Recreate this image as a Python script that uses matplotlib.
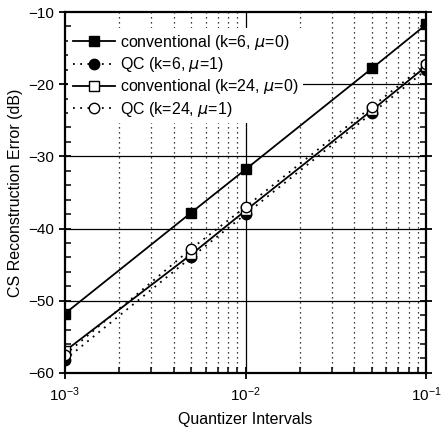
import numpy as np
import matplotlib
matplotlib.use('Agg')
import matplotlib.pyplot as plt
from matplotlib.ticker import LogLocator, MultipleLocator, FixedLocator, NullFormatter

plt.rcParams['font.family'] = ['Liberation Sans', 'DejaVu Sans']
plt.rcParams['mathtext.fontset'] = 'custom'
plt.rcParams['mathtext.rm'] = 'Liberation Sans'

# data
intervals = [0.001, 0.005, 0.01, 0.05, 0.1]
conv_k6 = [-51.8, -37.8, -31.8, -17.8, -11.7]
qc_k6 = [-58.2, -44.0, -38.0, -24.0, -18.0]
conv_k24 = [-57.0, -43.6, -37.5, -23.6, -17.5]
qc_k24 = [-57.5, -42.8, -37.0, -23.1, -17.2]

labels = ['conventional (k=6, $\\mu$=0)', 'QC (k=6, $\\mu$=1)',
          'conventional (k=24, $\\mu$=0)', 'QC (k=24, $\\mu$=1)']

fig = plt.figure(figsize=(4.41, 4.30), dpi=100)
ax = fig.add_axes([0.147, 0.133, 0.820, 0.839])

#grid first so it sits under the data
for xv in [2e-3, 3e-3, 4e-3, 5e-3, 6e-3, 7e-3, 8e-3, 9e-3,
           2e-2, 3e-2, 4e-2, 5e-2, 6e-2, 7e-2, 8e-2, 9e-2]:
    ax.axvline(xv, color='k', lw=0.9, ls=(0, (1, 3)), zorder=0.5)
ax.axvline(1e-2, color='k', lw=0.9, zorder=0.5)
for yv in [-20, -30, -40, -50]:
    ax.axhline(yv, color='k', lw=0.9, zorder=0.5)

ms = 7.5
ax.plot(intervals, conv_k6, '-', color='k', lw=1.3, marker='s', ms=ms,
        mfc='k', mec='k', label=labels[0])
ax.plot(intervals, qc_k6, color='k', lw=1.3, ls=(0, (1, 3)), marker='o', ms=ms,
        mfc='k', mec='k', label=labels[1])
ax.plot(intervals, conv_k24, '-', color='k', lw=1.3, marker='s', ms=ms,
        mfc='white', mec='k', label=labels[2])
ax.plot(intervals, qc_k24, color='k', lw=1.3, ls=(0, (1, 3)), marker='o', ms=ms,
        mfc='white', mec='k', label=labels[3])

ax.set_xscale('log')
ax.set_xlim(1e-3, 1e-1)
ax.set_ylim(-60, -10)
ax.xaxis.set_major_locator(FixedLocator([1e-3, 1e-2, 1e-1]))
ax.xaxis.set_minor_locator(LogLocator(base=10, subs=np.arange(2, 10)))
ax.xaxis.set_minor_formatter(NullFormatter())
ax.yaxis.set_major_locator(MultipleLocator(10))
ax.yaxis.set_minor_locator(MultipleLocator(2))

for s in ax.spines.values():
    s.set_linewidth(1.6)
ax.tick_params(which='major', direction='inout', length=8, width=1.3,
               labelsize=11, right=True, top=False)
ax.tick_params(which='minor', direction='in', length=4, width=1.1,
               right=True, top=False)
ax.tick_params(axis='x', which='major', pad=5)

ax.set_xlabel('Quantizer Intervals', fontsize=11.5, labelpad=6)
ax.set_ylabel('CS Reconstruction Error (dB)', fontsize=11.5, labelpad=4)

leg = ax.legend(loc='upper left', bbox_to_anchor=(0.01, 0.955), fontsize=11.5,
                frameon=True, framealpha=1, edgecolor='none', facecolor='white',
                handlelength=2.6, handletextpad=0.3, labelspacing=0.2,
                borderpad=0.3, borderaxespad=0.0, fancybox=False)
# keep legend box over the grid but under the data lines
leg.set_zorder(1.5)

fig.savefig('out.png', dpi=100)
